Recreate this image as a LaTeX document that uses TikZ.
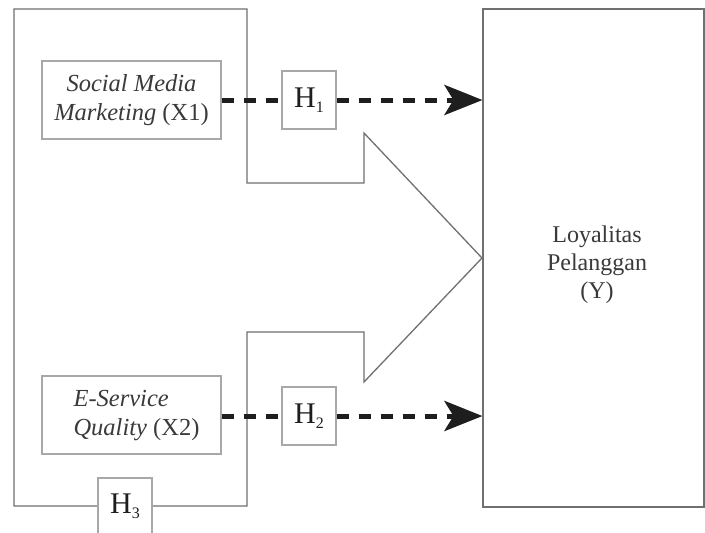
\documentclass[tikz,border=0pt]{standalone}
\usepackage{fontspec}
\setmainfont{Liberation Serif}
\usetikzlibrary{arrows.meta}
\definecolor{shapegray}{HTML}{707070}
\definecolor{boxgray}{HTML}{A8A8A8}
\definecolor{txtgray}{HTML}{3A3A3A}
\definecolor{dashblack}{HTML}{1E1E1E}
\newcommand{\hsub}[1]{{\fontsize{16}{16}\selectfont\raisebox{-5pt}{#1}}}
\tikzset{
  shapeline/.style={draw=shapegray, line width=1.3pt},
  varbox/.style={draw=boxgray, line width=1.1pt, fill=white, minimum width=179pt, minimum height=78pt,
    inner sep=0pt, text=txtgray, font=\fontsize{24.5}{29}\selectfont\itshape, align=center},
  hbox/.style={draw=boxgray, line width=1.1pt, fill=white, minimum width=54pt, minimum height=58pt,
    inner sep=0pt, text=dashblack, font=\fontsize{30}{32}\selectfont},
  ybox/.style={draw=shapegray, line width=1.1pt, fill=white, minimum width=221pt, minimum height=498pt,
    inner sep=0pt},
  ytext/.style={text=txtgray, font=\fontsize{24}{28}\selectfont, align=center},
  hyp/.style={draw=dashblack, line width=5pt, dash pattern=on 12pt off 10pt},
  hyparrow/.style={hyp, -{Stealth[length=38pt,width=30pt,inset=9pt]}}
}
\begin{document}
\begin{tikzpicture}[x=1pt,y=-1pt]
\useasboundingbox (0,0) rectangle (705,533);
\fill[white] (0,0) rectangle (705,533);
% combined block arrow outline
\draw[shapeline, fill=white] (14,9) -- (247,9) -- (247,183) -- (364,183) -- (364,133)
  -- (482,258) -- (364,382) -- (364,332) -- (247,332) -- (247,506) -- (14,506) -- cycle;
% dependent variable box
\node[ybox] (y) at (593.5,258) {};
\node[ytext] (ylab) at (597,265) {Loyalitas\\Pelanggan\\(Y)};
% independent variables
\node[varbox] (x1) at (131.5,100) {Social Media\\Marketing \textup{(X1)}};
\node[varbox] (x2) at (131.5,415) {\hspace*{10pt}\begin{tabular}{@{}l@{}}E-Service\\Quality \textup{(X2)}\end{tabular}};
% hypothesis boxes
\node[hbox] (h1) at (309,100) {H\hsub{1}};
\node[hbox] (h2) at (309,416) {H\hsub{2}};
\node[hbox, minimum height=57pt] (h3) at (125,506.5) {H\hsub{3}};
% connectors
\draw[hyp] (x1.east) -- (h1.west);
\draw[hyparrow] (h1.east) -- (h1.east -| y.west);
\draw[hyp] (x2.east |- h2.west) -- (h2.west);
\draw[hyparrow] (h2.east) -- (h2.east -| y.west);
\end{tikzpicture}
\end{document}
